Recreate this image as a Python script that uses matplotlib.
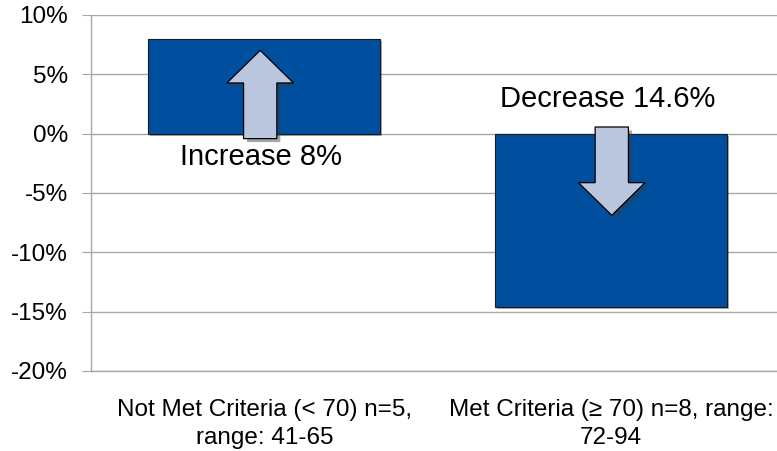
import numpy as np
import matplotlib.pyplot as plt
import matplotlib.patheffects as pe
from matplotlib.patches import Polygon

plt.rcParams['font.family'] = ['Liberation Sans', 'DejaVu Sans']

# data
categories = ['Not Met Criteria (< 70) n=5,\nrange: 41-65',
              'Met Criteria (\u2265 70) n=8, range:\n72-94']
changes = [8.0, -14.6]          # percent change
change_labels = ['Increase 8%', 'Decrease 14.6%']
y_ticks = [-20, -15, -10, -5, 0, 5, 10]

BAR_COLOR = '#004f9f'
ARROW_COLOR = '#bac6dd'
GRID_COLOR = '#a8a8a8'

fig = plt.figure(figsize=(7.77, 4.51), dpi=100)
ax = fig.add_axes([0.1171, 0.1774, 0.8925, 0.7894])

x = np.arange(len(categories))
ax.bar(x, changes, width=0.669, color=BAR_COLOR, edgecolor='#1a1a1a',
       linewidth=0.8, zorder=2,
       path_effects=[pe.SimplePatchShadow(offset=(1.5, -1.5), alpha=0.35),
                     pe.Normal()])

ax.set_xlim(-0.5, 1.5)
ax.set_ylim(-20, 10)
ax.set_yticks(y_ticks)
ax.set_yticklabels([f'{v}%' for v in y_ticks])
ax.set_xticks(x)
ax.set_xticklabels(categories)
for lbl in ax.get_xticklabels():
    lbl.set_linespacing(1.38)

ax.grid(axis='y', color=GRID_COLOR, lw=1.0, zorder=0)
ax.axhline(-20, color=GRID_COLOR, lw=1.0, zorder=0, clip_on=False)
ax.set_axisbelow(True)
for s in ['top', 'right', 'bottom']:
    ax.spines[s].set_visible(False)
ax.spines['left'].set_color(GRID_COLOR)
ax.spines['left'].set_linewidth(1.0)
ax.tick_params(axis='y', length=6.5, color=GRID_COLOR, labelsize=17.5, pad=10)
ax.tick_params(axis='x', length=0, labelsize=17.5, pad=20)


def block_arrow(ax, xc, y_start, y_wing, y_tip, head_w=0.192, shaft_w=0.096):
    hs, hh = shaft_w / 2, head_w / 2
    pts = [(xc - hs, y_start), (xc + hs, y_start), (xc + hs, y_wing),
           (xc + hh, y_wing), (xc, y_tip), (xc - hh, y_wing),
           (xc - hs, y_wing)]
    poly = Polygon(pts, closed=True, facecolor=ARROW_COLOR,
                   edgecolor='black', lw=0.9, zorder=3,
                   path_effects=[pe.SimplePatchShadow(offset=(2.5, -2.5),
                                                      alpha=0.45),
                                 pe.Normal()])
    ax.add_patch(poly)


# up arrow on first bar, down arrow on second
block_arrow(ax, x[0] - 0.012, -0.42, 4.27, 7.02)
block_arrow(ax, x[1] + 0.002, 0.56, -4.13, -6.88)

ax.text(x[0] - 0.01, -2.0, change_labels[0], ha='center', va='center',
        fontsize=21, zorder=4)
ax.text(x[1] - 0.01, 2.88, change_labels[1], ha='center', va='center',
        fontsize=21, zorder=4)

fig.savefig('out.png', dpi=100)
